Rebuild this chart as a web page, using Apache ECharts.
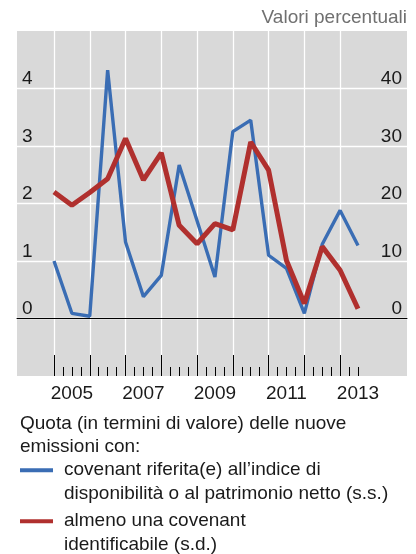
<!DOCTYPE html>
<html>
<head>
<meta charset="utf-8">
<script src="https://cdn.jsdelivr.net/npm/echarts@6/dist/echarts.min.js"></script>
<style>
html, body { margin: 0; padding: 0; background: #fff; }
#main { width: 416px; height: 554px; }
</style>
</head>
<body>
<div id="main"></div>
<script>
// half-year observations, 2005 H1 .. 2013 H2
let periods = ['2005 S1', '2005 S2', '2006 S1', '2006 S2', '2007 S1', '2007 S2',
               '2008 S1', '2008 S2', '2009 S1', '2009 S2', '2010 S1', '2010 S2',
               '2011 S1', '2011 S2', '2012 S1', '2012 S2', '2013 S1', '2013 S2'];
let years = [2005, 2006, 2007, 2008, 2009, 2010, 2011, 2012, 2013];
// covenant riferite all'indice di disponibilita' / patrimonio netto (scala sinistra)
let blueVals = [1.0, 0.09, 0.04, 4.32, 1.33, 0.38, 0.75, 2.67, 1.7, 0.72,
                3.25, 3.45, 1.1, 0.87, 0.09, 1.29, 1.88, 1.27];
// almeno una covenant identificabile (scala destra)
let redVals = [22.0, 19.7, 21.9, 24.3, 31.3, 24.1, 28.8, 16.2, 13.0, 16.5,
               15.4, 30.7, 25.8, 10.1, 2.6, 12.5, 8.4, 1.7];
let leftTicks = [0, 1, 2, 3, 4];
let rightTicks = [0, 10, 20, 30, 40];

let blueName = 'covenant riferita(e) all\u2019indice di\ndisponibilità o al patrimonio netto (s.s.)';
let redName = 'almeno una covenant\nidentificabile (s.d.)';

let FONT = '"Liberation Sans", Arial, sans-serif';
let TXT = '#1a1a1a';

// asse trimestrale (2005 T1 .. 2013 T3)
let quarters = [];
years.forEach(y => { for (let q = 1; q <= 4; q++) quarters.push(y + ' T' + q); });
quarters = quarters.slice(0, 35);

// semestre -> trimestre di inizio
function toQuarter(p) {
    return p.slice(0, 4) + (p.slice(-1) === '1' ? ' T1' : ' T3');
}
let blueData = periods.map((p, i) => [toQuarter(p), blueVals[i]]);
let redData = periods.map((p, i) => [toQuarter(p), redVals[i]]);

let myChart = echarts.init(document.getElementById('main'), null, {renderer: 'canvas'});

// riga vuota iniziale: la prima riga del testo resta centrata sul simbolo
let legendText = {fontSize: 19, color: TXT, fontFamily: FONT, lineHeight: 23.5, padding: [0, 0, 0, 6]};
let legendFmt = (name) => '\n' + name;

let option = {
    animation: false,
    textStyle: {fontFamily: FONT},
    title: [
        {text: 'Valori percentuali', right: 9, top: 8, padding: 0,
         textStyle: {fontSize: 19, fontWeight: 'normal', color: '#707070', fontFamily: FONT}},
        {text: 'Quota (in termini di valore) delle nuove\nemissioni con:', left: 20, top: 412, padding: 0,
         textStyle: {fontSize: 19, fontWeight: 'normal', color: TXT, fontFamily: FONT, lineHeight: 23.5}}
    ],
    legend: [
        {data: [blueName], left: 20, top: 435, padding: 0, orient: 'vertical', selectedMode: false,
         icon: 'rect', itemWidth: 33, itemHeight: 4, textStyle: legendText, formatter: legendFmt},
        {data: [redName], left: 20, top: 486, padding: 0, orient: 'vertical', selectedMode: false,
         icon: 'rect', itemWidth: 33, itemHeight: 4, textStyle: legendText, formatter: legendFmt}
    ],
    grid: [
        {left: 17, top: 31, width: 390, height: 345, show: true, backgroundColor: '#d9d9d9', borderWidth: 0},
        {left: 54, top: 31, width: 304, height: 345}
    ],
    xAxis: [
        // linea dello zero su tutta l'area grigia
        {gridIndex: 0, type: 'value', min: 0, max: 1, z: 1,
         axisLine: {onZero: true, lineStyle: {color: '#000', width: 1}},
         axisTick: {show: false}, axisLabel: {show: false}, splitLine: {show: false}},
        // griglia verticale ad inizio anno
        {gridIndex: 1, type: 'category', data: quarters, boundaryGap: false, position: 'bottom',
         axisLine: {show: false, onZero: false}, axisTick: {show: false}, axisLabel: {show: false},
         splitLine: {show: true, interval: (i) => i % 4 === 0, lineStyle: {color: '#fff', width: 1.3}}},
        // tacche trimestrali + etichette
        {gridIndex: 1, type: 'category', data: quarters, boundaryGap: false, position: 'bottom', z: 2,
         axisLine: {show: false, onZero: false},
         axisTick: {show: true, inside: true, length: 9, interval: 0, lineStyle: {color: '#000', width: 1}},
         axisLabel: {interval: (i) => i % 8 === 2, formatter: (v) => v.slice(0, 4),
                     fontSize: 19, color: TXT, margin: 8, fontFamily: FONT},
         splitLine: {show: false}},
        // tacche annuali
        {gridIndex: 1, type: 'category', data: quarters, boundaryGap: false, position: 'bottom', z: 2,
         axisLine: {show: false, onZero: false},
         axisTick: {show: true, inside: true, length: 21, interval: (i) => i % 4 === 0, lineStyle: {color: '#000', width: 1}},
         axisLabel: {show: false}, splitLine: {show: false}}
    ],
    yAxis: [
        {gridIndex: 0, type: 'value', min: -1, max: 5, interval: 1, position: 'left',
         axisLine: {show: false}, axisTick: {show: false},
         axisLabel: {inside: true, margin: 5, verticalAlign: 'bottom', fontSize: 19, color: TXT, fontFamily: FONT,
                     formatter: (v) => leftTicks.indexOf(v) >= 0 ? String(v) : ''},
         splitLine: {show: true, showMinLine: false, showMaxLine: false, lineStyle: {color: '#fff', width: 1.3}}},
        {gridIndex: 0, type: 'value', min: -10, max: 50, interval: 10, position: 'right',
         axisLine: {show: false}, axisTick: {show: false},
         axisLabel: {inside: true, margin: 5, verticalAlign: 'bottom', fontSize: 19, color: TXT, fontFamily: FONT,
                     formatter: (v) => rightTicks.indexOf(v) >= 0 ? String(v) : ''},
         splitLine: {show: false}},
        {gridIndex: 1, type: 'value', min: -1, max: 5, show: false},
        {gridIndex: 1, type: 'value', min: -10, max: 50, show: false}
    ],
    series: [
        {name: blueName, type: 'line', xAxisIndex: 1, yAxisIndex: 2, data: blueData,
         symbol: 'none', lineStyle: {color: '#3a6db4', width: 3.4}, itemStyle: {color: '#3a6db4'}},
        {name: redName, type: 'line', xAxisIndex: 1, yAxisIndex: 3, data: redData,
         symbol: 'none', lineStyle: {color: '#b0302e', width: 5}, itemStyle: {color: '#b0302e'}}
    ]
};
myChart.setOption(option);
</script>
</body>
</html>
